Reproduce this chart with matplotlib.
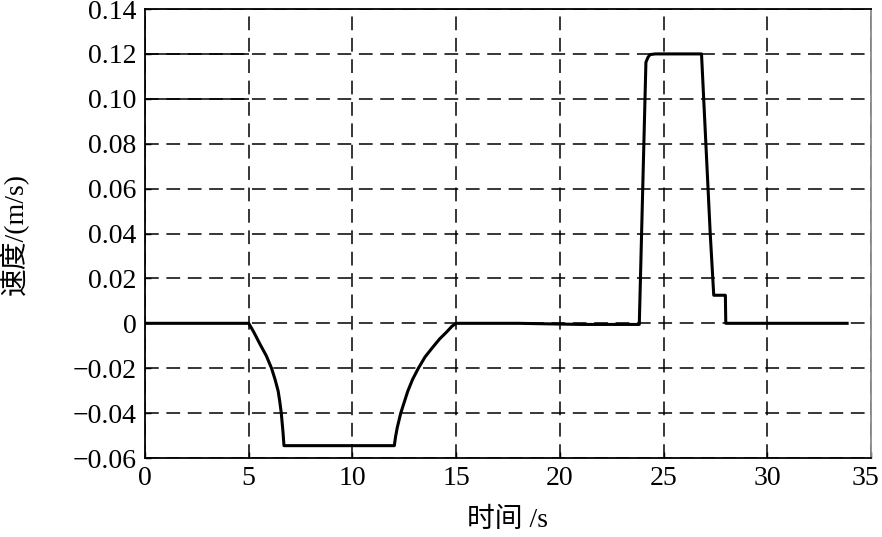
import matplotlib
matplotlib.use('Agg')
import matplotlib.pyplot as plt
from matplotlib.transforms import ScaledTranslation

plt.rcParams['font.family'] = ['Liberation Serif', 'Noto Sans CJK SC']
plt.rcParams['axes.unicode_minus'] = True

# velocity curve (time in s, velocity in m/s)
time_s = [0, 5.0, 5.25, 5.55, 5.85, 6.10, 6.27, 6.42, 6.50, 6.57, 6.65, 6.70,
          12.02, 12.08, 12.16, 12.33, 12.67, 12.90, 13.18, 13.50, 13.86,
          14.20, 14.54, 14.80, 15.0,
          18.0, 21.0, 23.83, 24.15, 24.25, 24.35, 24.6, 26.83, 27.25, 27.42,
          27.98, 28.0, 33.85]
speed = [0, 0, -0.0040, -0.0094, -0.0145, -0.020, -0.025, -0.0302, -0.035,
         -0.040, -0.0481, -0.0545,
         -0.0545, -0.0505, -0.0465, -0.040, -0.0302, -0.025, -0.020, -0.015,
         -0.0108, -0.0070, -0.0039, -0.0013, 0,
         0, -0.0005, -0.0005, 0.1163, 0.1185, 0.1197, 0.120, 0.120, 0.040,
         0.0125, 0.0125, 0, 0]

xticks = [0, 5, 10, 15, 20, 25, 30, 35]
yticks = [-0.06, -0.04, -0.02, 0, 0.02, 0.04, 0.06, 0.08, 0.10, 0.12, 0.14]
ylabels = ['\u22120.06', '\u22120.04', '\u22120.02', '0', '0.02', '0.04',
           '0.06', '0.08', '0.10', '0.12', '0.14']

fig = plt.figure(figsize=(8.82, 5.37), dpi=100)
ax = fig.add_axes([0.1644, 0.1471, 0.8231, 0.8361])

ax.plot(time_s, speed, color='black', lw=2.2, solid_joinstyle='round', zorder=3)

ax.set_xlim(xticks[0], xticks[-1])
ax.set_ylim(yticks[0], yticks[-1])
ax.set_xticks(xticks)
ax.set_yticks(yticks)
ax.set_yticklabels(ylabels)

ax.grid(True, color='black', lw=1.1, linestyle=(0, (9, 5)))
# the two upper grid lines are solid on the first interval in the original
ax.hlines([yticks[-2], yticks[-3]], xticks[0], xticks[1], color='black', lw=1.1)

ax.tick_params(direction='in', length=4, width=1, labelsize=20, pad=6,
               colors='black')
for side in ['left', 'bottom', 'top']:
    ax.spines[side].set_linewidth(1.3)
    ax.spines[side].set_color('black')
ax.spines['right'].set_color('#8a8a8a')
ax.spines['right'].set_linewidth(1.3)

# keep the last x label inside the figure
last = ax.get_xticklabels()[-1]
last.set_transform(last.get_transform() + ScaledTranslation(-6 / 100, 0, fig.dpi_scale_trans))

ax.set_xlabel('时间 /s', fontsize=20, va='top')
ax.xaxis.set_label_coords(0.5, -0.11)
ax.set_ylabel('速度/(m/s)', fontsize=20)
ax.yaxis.set_label_coords(-0.16, 0.5)

fig.savefig('out.png', dpi=100)
